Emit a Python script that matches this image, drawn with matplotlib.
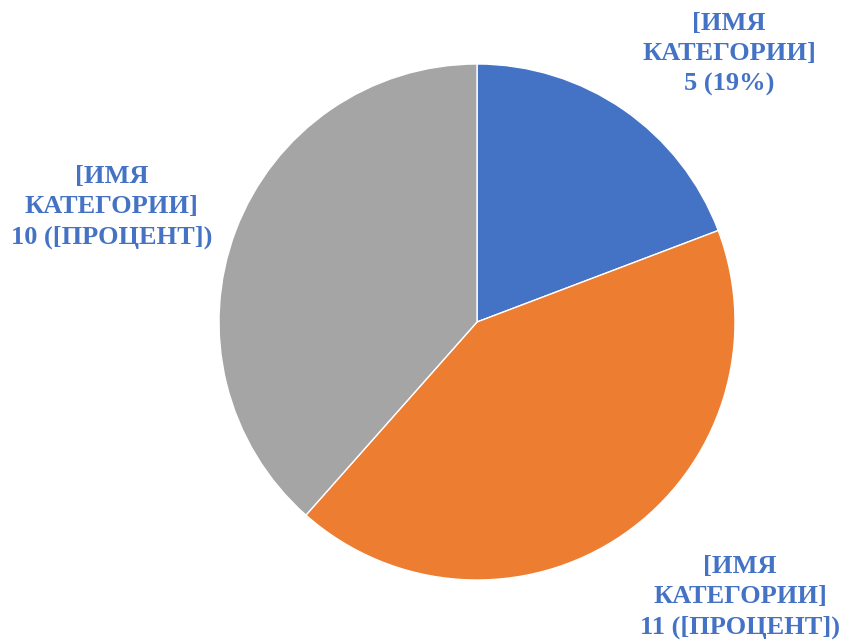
import matplotlib.pyplot as plt

# Данные диаграммы
категории = ['[ИМЯ\nКАТЕГОРИИ]', '[ИМЯ\nКАТЕГОРИИ]', '[ИМЯ\nКАТЕГОРИИ]']
значения = [5, 11, 10]
подписи_процент = ['5 (19%)', '11 ([ПРОЦЕНТ])', '10 ([ПРОЦЕНТ])']
цвета = ['#4472C4', '#ED7D31', '#A5A5A5']
цвет_подписей = '#4472C4'

# позиции подписей (в координатах осей, радиус = 1)
позиции = [(0.977, 1.04), (1.02, -1.066), (-1.415, 0.446)]

fig = plt.figure(figsize=(8.47, 6.44), dpi=100)
ax = fig.add_axes([219 / 847, 1 - 580 / 644, 516 / 847, 516 / 644])

wedges, _ = ax.pie(
    значения,
    colors=цвета,
    startangle=90,
    counterclock=False,
    radius=1.0,
    wedgeprops=dict(edgecolor='white', linewidth=1.0),
)

for (x, y), кат, проц in zip(позиции, категории, подписи_процент):
    ax.text(x, y, кат + '\n' + проц, ha='center', va='center',
            fontsize=19, fontweight='bold', color=цвет_подписей,
            family=['Liberation Serif', 'DejaVu Serif'], linespacing=1.4)

ax.set_xlim(-1, 1)
ax.set_ylim(-1, 1)
ax.set_aspect('equal')
ax.axis('off')

fig.savefig('out.png', dpi=100)
